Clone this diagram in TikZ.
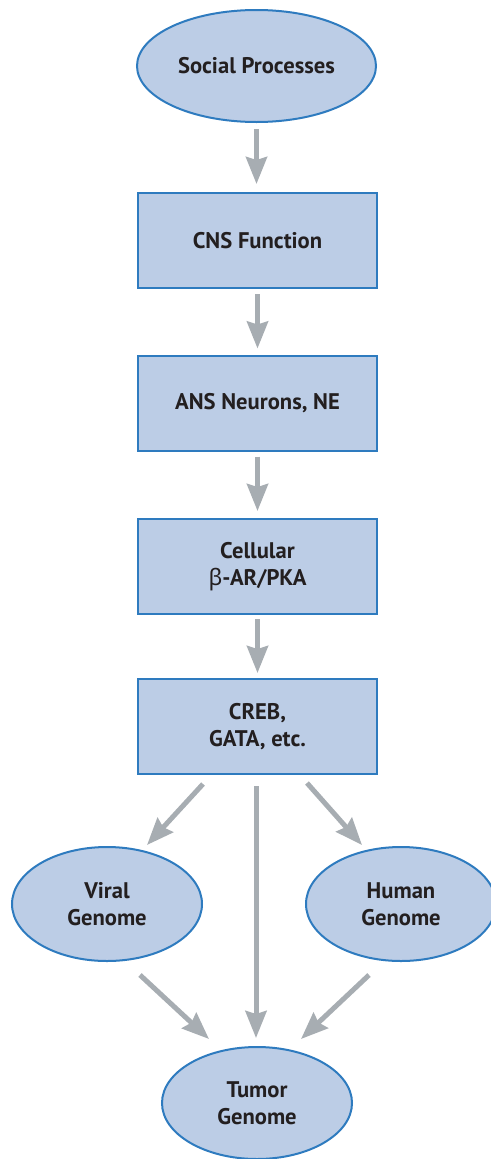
\documentclass[tikz,border=0pt]{standalone}
\usepackage{fontspec}
\setmainfont{PT Sans}
\newfontfamily\grk{Noto Sans}[Scale=1.0]
\usetikzlibrary{shapes.geometric,arrows.meta,calc}
\definecolor{fillblue}{HTML}{BCCDE6}
\definecolor{edgeblue}{HTML}{2E7BBF}
\definecolor{arrgray}{HTML}{A7ADB2}
\definecolor{txt}{HTML}{231F20}
\begin{document}
\begin{tikzpicture}[x=1pt,y=-1pt,
  every node/.style={font=\bfseries\fontsize{22.6}{27}\selectfont, text=txt, align=center},
  oval/.style={ellipse, draw=edgeblue, fill=fillblue, line width=2pt, inner sep=0pt},
  boxnode/.style={rectangle, draw=edgeblue, fill=fillblue, line width=2pt, minimum width=239pt, minimum height=95pt, inner sep=0pt},
  arr/.style={draw=arrgray, line width=5pt, -{Stealth[length=27pt,width=21pt,inset=3pt]}}]
\useasboundingbox (0,0) rectangle (490,1159);
\node[oval, minimum width=239pt, minimum height=112pt] (social) at (256.5,66) {Social Processes};
\node[boxnode] (cns) at (257.5,240.5) {CNS Function};
\node[boxnode] (ans) at (257.5,403) {ANS Neurons, NE};
\node[boxnode] (cell) at (257.5,566.5) {Cellular\\{\grk\mdseries β}-AR/PKA};
\node[boxnode] (creb) at (257.5,726.5) {CREB,\\GATA, etc.};
\node[oval, minimum width=190pt, minimum height=114pt] (viral) at (107,904) {Viral\\Genome};
\node[oval, minimum width=190pt, minimum height=114pt] (human) at (401,904) {Human\\Genome};
\node[oval, minimum width=190pt, minimum height=112pt] (tumor) at (257,1103) {Tumor\\Genome};
\draw[arr, shorten <=6pt, shorten >=8pt] (social.south) -- (social.south |- cns.north);
\draw[arr, shorten <=5pt, shorten >=6pt] (cns) -- (ans);
\draw[arr, shorten <=5pt, shorten >=7pt] (ans) -- (cell);
\draw[arr, shorten <=4pt, shorten >=5pt] (cell) -- (creb);
\draw[arr] ($(creb.south)+(-1.5,11)$) -- ($(tumor.north)+(-1,-8)$);
\draw[arr] ($(creb.south)+(-54.5,9)$) -- ($(viral.center)+(40,-59)$);
\draw[arr] ($(creb.south)+(49.5,8)$) -- ($(human.center)+(-39,-59)$);
\draw[arr] ($(viral.center)+(33,71)$) -- ($(tumor.center)+(-48,-64)$);
\draw[arr] ($(human.center)+(-32,71)$) -- ($(tumor.center)+(44,-64)$);
\end{tikzpicture}
\end{document}
